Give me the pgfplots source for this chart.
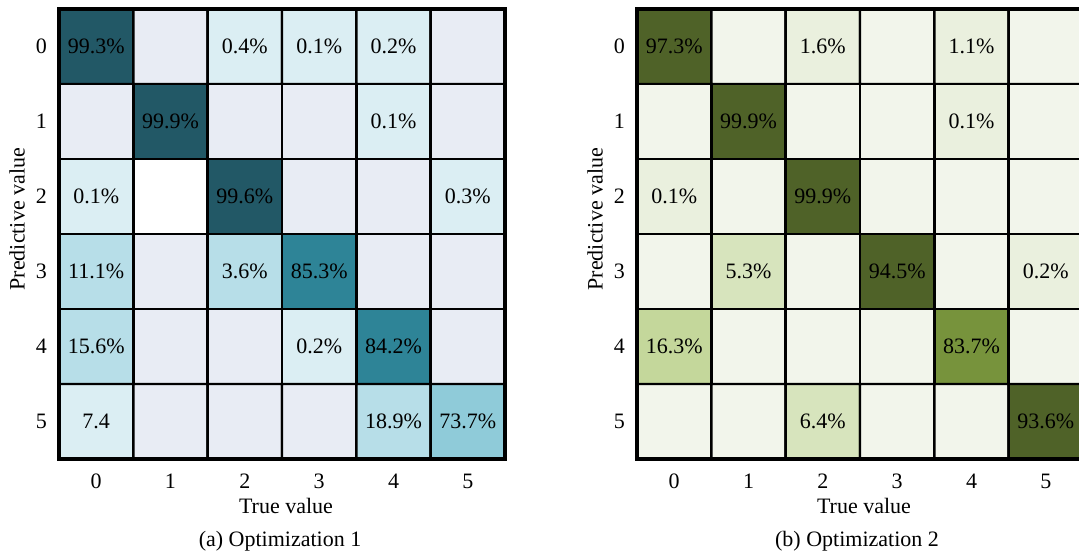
\documentclass[border=0pt]{standalone}
\usepackage{pgfplots}
\pgfplotsset{compat=1.18}
\usepackage{pgfplotstable}
\usepackage{fontspec}
\setmainfont{Liberation Serif}

\newcommand{\chartfont}{\fontsize{11}{13}\selectfont}

% Cell shading levels (x = true value, y = predictive value)
\pgfplotstableread{
x y lvl
0 0 6
1 0 0
2 0 2
3 0 2
4 0 2
5 0 0
0 1 0
1 1 6
2 1 0
3 1 0
4 1 2
5 1 0
0 2 2
1 2 1
2 2 6
3 2 0
4 2 0
5 2 2
0 3 3
1 3 0
2 3 3
3 3 5
4 3 0
5 3 0
0 4 3
1 4 0
2 4 0
3 4 2
4 4 5
5 4 0
0 5 2
1 5 0
2 5 0
3 5 0
4 5 3
5 5 4
}\cellsA

% Printed cell values, pct = 1 adds a percent sign
\pgfplotstableread{
x y v pct
0 0 99.3 1
2 0 0.4 1
3 0 0.1 1
4 0 0.2 1
1 1 99.9 1
4 1 0.1 1
0 2 0.1 1
2 2 99.6 1
5 2 0.3 1
0 3 11.1 1
2 3 3.6 1
3 3 85.3 1
0 4 15.6 1
3 4 0.2 1
4 4 84.2 1
0 5 7.4 0
4 5 18.9 1
5 5 73.7 1
}\labelsA

\pgfplotstableread{
x y lvl
0 0 5
1 0 0
2 0 1
3 0 0
4 0 1
5 0 0
0 1 0
1 1 5
2 1 0
3 1 0
4 1 1
5 1 0
0 2 1
1 2 0
2 2 5
3 2 0
4 2 0
5 2 0
0 3 0
1 3 2
2 3 0
3 3 5
4 3 0
5 3 1
0 4 3
1 4 0
2 4 0
3 4 0
4 4 4
5 4 0
0 5 0
1 5 0
2 5 2
3 5 0
4 5 0
5 5 5
}\cellsB

\pgfplotstableread{
x y v pct
0 0 97.3 1
2 0 1.6 1
4 0 1.1 1
1 1 99.9 1
4 1 0.1 1
0 2 0.1 1
2 2 99.9 1
1 3 5.3 1
3 3 94.5 1
5 3 0.2 1
0 4 16.3 1
4 4 83.7 1
2 5 6.4 1
5 5 93.6 1
}\labelsB

\pgfplotsset{
  confmat/.style={
    scale only axis,
    width=223pt, height=225pt,
    anchor=south west,
    xmin=-0.5, xmax=5.5, ymin=-0.5, ymax=5.5,
    y dir=reverse,
    enlargelimits=false,
    axis on top,
    xtick={0,...,5}, ytick={0,...,5},
    major tick length=0pt,
    axis line style={line width=1.8pt},
    /pgf/number format/assume math mode=true,
    tick label style={font=\chartfont},
    xticklabel style={yshift=-4pt},
    yticklabel style={xshift=-2.5pt},
    label style={font=\chartfont},
    xlabel={True value},
    xlabel style={at={(axis description cs:0.5,0)}, anchor=center, yshift=-23.5pt, xshift=2pt},
    ylabel={Predictive value},
    ylabel style={at={(axis description cs:-0.094,0.533)}, anchor=center},
    colormap access=direct,
    clip=false,
  },
  cells/.style={
    matrix plot,
    mesh/cols=6,
    shader=faceted,
    faceted color=black,
    line width=1.2pt,
    point meta=explicit,
  },
  vals/.style={
    only marks, mark=none,
    mesh/check=false,
    point meta=explicit,
    visualization depends on={\thisrow{pct}\as\pct},
    nodes near coords={\pgfmathprintnumber[fixed,fixed zerofill,precision=1]{\pgfplotspointmeta}\ifdim\pct pt>0.5pt\%\fi},
    nodes near coords align=center,
    every node near coord/.append style={font=\chartfont, text=black, inner sep=0pt},
  },
}

\begin{document}
\begin{tikzpicture}
\path[use as bounding box] (0,0) rectangle (539.5pt,276.5pt);
\clip (0,0) rectangle (539.5pt,276.5pt);

\begin{axis}[confmat,
  at={(29.5pt,47pt)},
  colormap={cmteal}{rgb255=(232,236,244) rgb255=(255,255,255) rgb255=(219,238,243)
    rgb255=(183,222,232) rgb255=(143,203,217) rgb255=(46,132,151) rgb255=(34,88,102)},
]
\addplot[cells] table[x=x, y=y, meta=lvl] {\cellsA};
\addplot[vals] table[x=x, y=y, meta=v] {\labelsA};
\end{axis}

\begin{axis}[confmat,
  at={(318.5pt,47pt)},
  colormap={cmolive}{rgb255=(242,245,235) rgb255=(234,240,222) rgb255=(215,228,189)
    rgb255=(196,215,155) rgb255=(119,147,60) rgb255=(79,98,40)},
]
\addplot[cells] table[x=x, y=y, meta=lvl] {\cellsB};
\addplot[vals] table[x=x, y=y, meta=v] {\labelsB};
\end{axis}

\node[font=\chartfont, anchor=base] at (140pt,3.5pt) {(a) Optimization 1};
\node[font=\chartfont, anchor=base] at (428.5pt,3.5pt) {(b) Optimization 2};
\end{tikzpicture}
\end{document}
